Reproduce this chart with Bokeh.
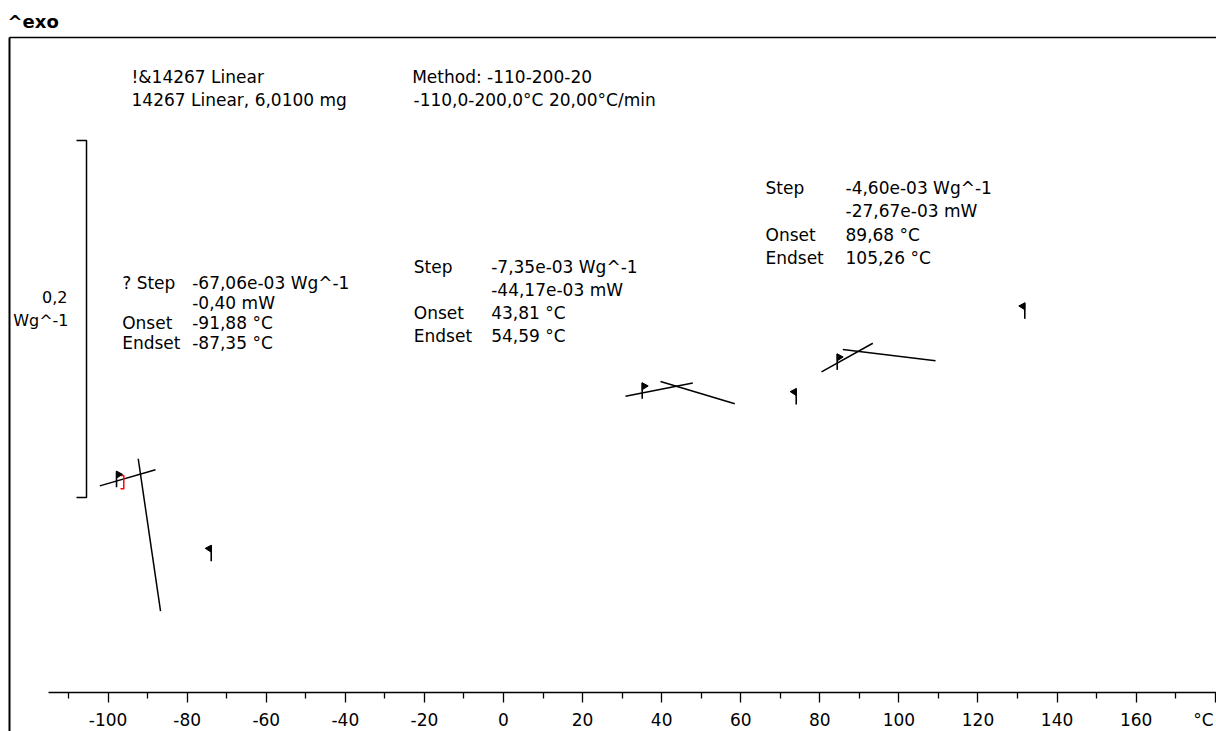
from bokeh.plotting import figure
from bokeh.models import LinearAxis, FixedTicker, Range1d, Label
from bokeh.embed import file_html
from bokeh.resources import INLINE

FONT = "DejaVu Sans"

# ---- temperature axis (°C) ----
major_ticks = [-100, -80, -60, -40, -20, 0, 20, 40, 60, 80, 100, 120, 140, 160, 180]
minor_ticks = [-110, -90, -70, -50, -30, -10, 10, 30, 50, 70, 90, 110, 130, 150, 170]
tick_labels = ["-100", "-80", "-60", "-40", "-20", "0", "20", "40", "60", "80",
               "100", "120", "140", "160", ""]
axis_start = -115.0

# ---- evaluation tangents (°C, W/g) ----
tangent_T = [[-102.10, -88.01], [-92.38, -86.74],
             [30.86, 47.88], [39.71, 58.50],
             [80.43, 93.40], [85.82, 109.26]]
tangent_hf = [[-0.1224, -0.1134], [-0.1072, -0.1926],
              [-0.0722, -0.0647], [-0.0639, -0.0764],
              [-0.0585, -0.0425], [-0.0460, -0.0523]]

# ---- evaluation limit flags ----
flag_T = [-97.87, -73.92, 35.08, 74.03, 84.40, 131.84]
flag_hf = [-0.1231, -0.1646, -0.0736, -0.0768, -0.0574, -0.0288]
flag_side = ["right", "left", "right", "left", "right", "left"]

# ---- visible piece of the measured curve ----
curve_T = [-96.86, -96.03, -96.03, -96.86]
curve_hf = [-0.1166, -0.1166, -0.1240, -0.1240]

# ---- heat-flow scale bar ----
scale_value = 0.2          # W/g
scale_base = -0.1289       # W/g at the lower end
scale_T = -105.46

# ---- step evaluation results ----
step_names = [["? Step", "", "Onset", "Endset"],
              ["Step", "", "Onset", "Endset"],
              ["Step", "", "Onset", "Endset"]]
step_values = [["-67,06e-03 Wg^-1", "-0,40 mW", "-91,88 °C", "-87,35 °C"],
               ["-7,35e-03 Wg^-1", "-44,17e-03 mW", "43,81 °C", "54,59 °C"],
               ["-4,60e-03 Wg^-1", "-27,67e-03 mW", "89,68 °C", "105,26 °C"]]

W, H = 1216, 731
PX_PER_C = 3.954
PX_PER_WG = 1785.0
x0 = -503 / PX_PER_C
y0 = -0.26

p = figure(width=W, height=H, output_backend="svg", toolbar_location=None,
           x_range=Range1d(x0, x0 + W / PX_PER_C),
           y_range=Range1d(y0, y0 + H / PX_PER_WG),
           x_axis_type=None, y_axis_type=None,
           min_border=0, outline_line_color=None,
           background_fill_color="white", border_fill_color="white")

dx = 1 / PX_PER_C
dy = 1 / PX_PER_WG

# frame lines (left and top)
frame_left_T = x0 + 8.7 * dx
frame_top_hf = y0 + (H - 37) * dy
left_axis = LinearAxis(fixed_location=frame_left_T, bounds=(y0, frame_top_hf),
                       ticker=FixedTicker(ticks=[]), major_tick_out=0, major_tick_in=0,
                       minor_tick_out=0, minor_tick_in=0,
                       major_label_text_font_size="0px",
                       axis_line_width=2, axis_line_color="black")
p.add_layout(left_axis, "left")
top_axis = LinearAxis(fixed_location=frame_top_hf, bounds=(frame_left_T, x0 + W / PX_PER_C),
                      ticker=FixedTicker(ticks=[]), major_tick_out=0, major_tick_in=0,
                      minor_tick_out=0, minor_tick_in=0,
                      major_label_text_font_size="0px",
                      axis_line_width=1.6, axis_line_color="black")
p.add_layout(top_axis, "above")

# temperature axis
xaxis = LinearAxis(fixed_location=y0 + 39 * dy, bounds=(axis_start, x0 + W / PX_PER_C),
                   ticker=FixedTicker(ticks=major_ticks, minor_ticks=minor_ticks),
                   major_label_overrides={t: s for t, s in zip(major_ticks, tick_labels)},
                   major_tick_out=10, major_tick_in=0, minor_tick_out=6, minor_tick_in=0,
                   major_tick_line_width=1.3, minor_tick_line_width=1.3,
                   axis_line_width=1.5, axis_line_color="black",
                   major_label_standoff=10,
                   major_label_text_font=FONT, major_label_text_font_size="17px",
                   major_label_text_color="black")
p.add_layout(xaxis, "below")

# tangents
p.multi_line(xs=tangent_T, ys=tangent_hf, line_color="black", line_width=1.5)

# measured curve piece
p.line(curve_T, curve_hf, line_color="red", line_width=1.5)

# flags: pole + pennant
pole_len = 16 * dy
pen_w = 6 * dx
pen_h = 7 * dy
p.segment(x0=flag_T, y0=flag_hf, x1=flag_T, y1=[h + pole_len for h in flag_hf],
          line_color="black", line_width=1.6)
pen_xs, pen_ys = [], []
for t, h, side in zip(flag_T, flag_hf, flag_side):
    top = h + pole_len
    s = 1 if side == "right" else -1
    pen_xs.append([t, t + s * pen_w, t])
    pen_ys.append([top, top - 0.45 * pen_h, top - pen_h])
p.patches(pen_xs, pen_ys, fill_color="black", line_color="black", line_width=1)

# scale bar
bar_tick = 10 * dx
p.line([scale_T - bar_tick, scale_T, scale_T, scale_T - bar_tick],
       [scale_base + scale_value, scale_base + scale_value, scale_base, scale_base],
       line_color="black", line_width=1.5)


def label(x, y_from_top, text, align="left", bold=False, size="17px"):
    p.add_layout(Label(x=x, y=H - y_from_top, x_units="screen", y_units="screen",
                       text=text, text_font=FONT, text_font_size=size,
                       text_font_style="bold" if bold else "normal",
                       text_color="black", text_align=align,
                       text_baseline="middle"))


label(7, 21, "^exo", bold=True, size="18px")
label(131, 76, "!&14267 Linear")
label(131, 99, "14267 Linear, 6,0100 mg")
label(411.7, 76, "Method: -110-200-20")
label(413, 99, "-110,0-200,0°C 20,00°C/min")
label(67, 296, "0,2", align="right", size="16px")
label(68, 320, "Wg^-1", align="right", size="16px")
label(1213, 719, "°C", align="right")

# result blocks: (name column x, value column x, first row centre, row pitch)
block_pos = [(121.7, 191.7, 282.0, 20.0),
             (413.3, 490.7, 266.0, 23.3),
             (765.0, 845.0, 187.0, 23.5)]
for (nx, vx, by, pitch), names, vals in zip(block_pos, step_names, step_values):
    for i, (n, v) in enumerate(zip(names, vals)):
        if n:
            label(nx, by + pitch * i, n)
        label(vx, by + pitch * i, v)

open("out.html", "w").write(file_html(p, INLINE))
